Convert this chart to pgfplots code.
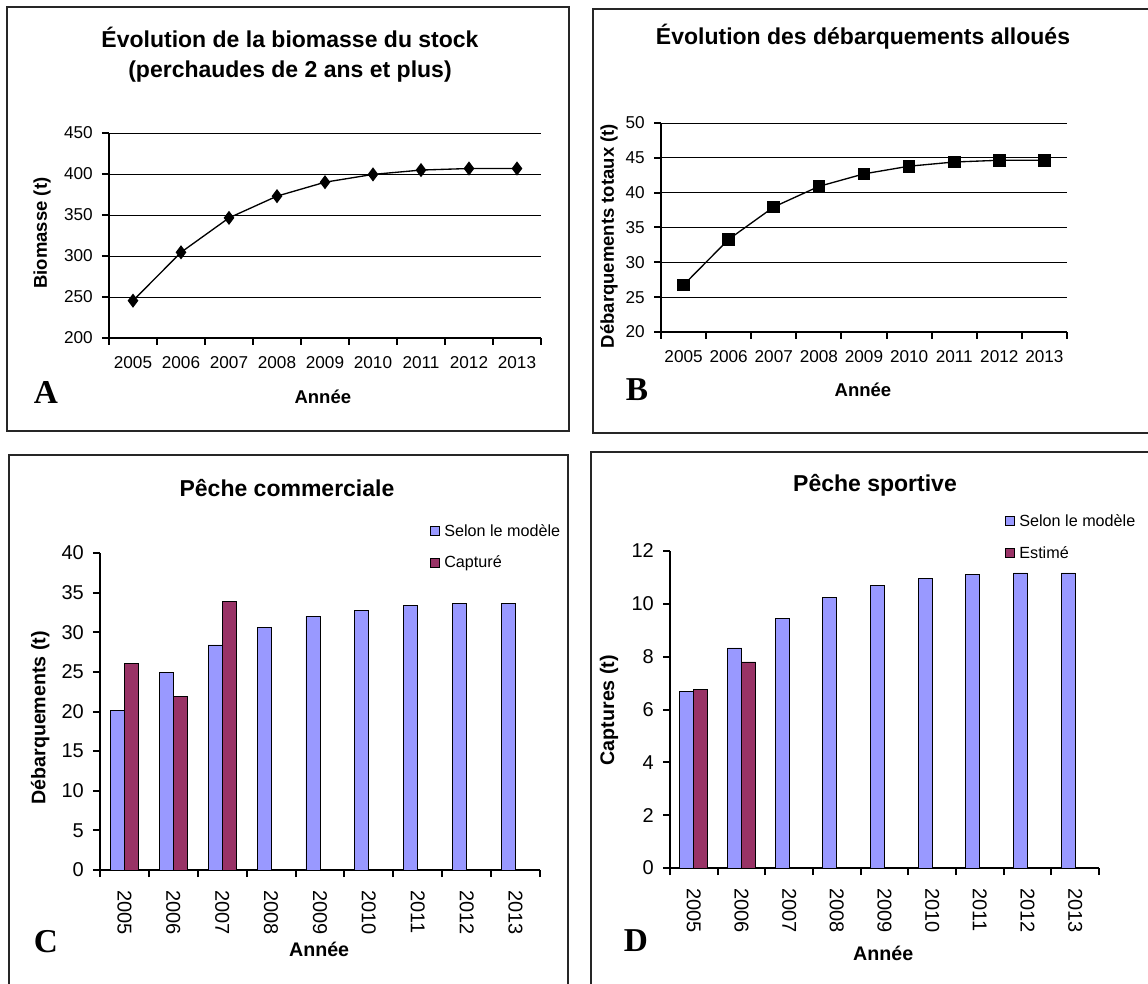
\documentclass[border=0pt]{standalone}
\usepackage{fontspec}
\setmainfont{Liberation Sans}
\newfontfamily\tnr{Liberation Serif}
\usepackage{pgfplots}
\pgfplotsset{compat=1.18}

\definecolor{modele}{HTML}{9999FF}
\definecolor{capture}{HTML}{993366}

\newcommand{\titlefont}{\bfseries\fontsize{13.8}{16}\selectfont}
\newcommand{\labelfont}{\bfseries\fontsize{11.1}{13}\selectfont}
\newcommand{\barlabelfont}{\bfseries\fontsize{11.8}{14}\selectfont}
\newcommand{\tickfont}{\fontsize{10.3}{12}\selectfont}
\newcommand{\bartickfont}{\fontsize{12}{14}\selectfont}
\newcommand{\letterfont}{\tnr\bfseries\fontsize{20}{24}\selectfont}

\pgfplotsset{
  panel/.style={
    scale only axis,
    axis lines=left,
    axis line style={-, line width=1.5pt, black},
    tick align=outside,
    major tick length=4.2pt,
    minor tick length=4.2pt,
    every tick/.style={black, line width=1.2pt},
    major x tick style={draw=none},
    ticklabel style={font=\tickfont},
    yticklabel style={xshift=-2pt},
    xticklabel style={yshift=-3.5pt},
    /pgf/number format/assume math mode=true,
    xmin=0.5, xmax=9.5,
    xtick={1,...,9},
    xticklabels={2005,2006,2007,2008,2009,2010,2011,2012,2013},
    minor xtick={0.5,1.5,...,9.5},
    enlargelimits=false,
    label style={font=\labelfont},
  },
  gridded/.style={
    ymajorgrids,
    major grid style={black, line width=0.5pt},
  },
  bars/.style={
    ybar=0pt,
    bar width=8.4pt,
    ticklabel style={font=\bartickfont},
    label style={font=\barlabelfont},
    yticklabel style={xshift=0pt},
    xticklabel style={rotate=-90, anchor=west, xshift=1pt},
    area legend,
    legend image code/.code={\draw[##1, draw=black, line width=0.5pt] (0pt,-2.7pt) rectangle (5.4pt,2.7pt);},
    legend style={draw=none, fill=none, inner sep=0pt, row sep=7.5pt,
      font=\fontsize{9.7}{11}\selectfont, nodes={inner sep=1.5pt, inner xsep=2.5pt}},
    legend cell align=left,
  },
}

\begin{document}
\begin{tikzpicture}[x=0.6pt, y=-0.6pt]
\useasboundingbox (0,0) rectangle (1148,983);
\clip (0,0) rectangle (1148,983);

% panel frames
\draw[line width=0.9pt, black!85] (7,7) rectangle (569,431);
\draw[line width=0.9pt, black!85] (593,9) rectangle (1170,433);
\draw[line width=0.9pt, black!85] (9,455) rectangle (568,1010);
\draw[line width=0.9pt, black!85] (591,452) rectangle (1170,1010);

% titles and panel letters
\node[font=\titlefont] at (290,37) {Évolution de la biomasse du stock};
\node[font=\titlefont] at (290,72) {(perchaudes de 2 ans et plus)};
\node[font=\titlefont] at (863,37) {Évolution des débarquements alloués};
\node[font=\titlefont] at (287,488) {Pêche commerciale};
\node[font=\titlefont] at (875,485) {Pêche sportive};
\node[font=\letterfont] at (46,392) {A};
\node[font=\letterfont] at (637,390) {B};
\node[font=\letterfont] at (46,942) {C};
\node[font=\letterfont] at (636,941) {D};

% A: biomass of the stock
\begin{axis}[panel, gridded,
  at={(65.4pt,-202.8pt)}, anchor=south west,
  width=259.2pt, height=123pt,
  ymin=200, ymax=450, ytick={200,250,...,450},
  xlabel={Année}, ylabel={Biomasse (t)},
  xlabel style={at={(axis description cs:0.495,-0.288)}, anchor=center},
  ylabel style={at={(axis description cs:-0.155,0.512)}, anchor=center},
]
\addplot[black, line width=0.8pt, mark=diamond*, mark size=3.6pt,
  mark options={solid, fill=black}]
  coordinates {(1,245.5)(2,304.5)(3,346.5)(4,373)(5,390)(6,399.5)(7,404.8)(8,406.7)(9,406.7)};
\end{axis}

% B: allocated landings
\begin{axis}[panel, gridded,
  at={(396.6pt,-199.2pt)}, anchor=south west,
  width=243.6pt, height=125.4pt,
  ymin=20, ymax=50, ytick={20,25,...,50},
  xlabel={Année}, ylabel={Débarquements totaux (t)},
  xlabel style={at={(axis description cs:0.4975,-0.278)}, anchor=center},
  ylabel style={at={(axis description cs:-0.128,0.459)}, anchor=center},
]
\addplot[black, line width=0.8pt, mark=square*, mark size=3.4pt,
  mark options={solid, fill=black}]
  coordinates {(1,26.75)(2,33.3)(3,37.95)(4,40.9)(5,42.7)(6,43.8)(7,44.4)(8,44.65)(9,44.65)};
\end{axis}

% C: commercial fishery
\begin{axis}[panel, bars,
  at={(60pt,-522pt)}, anchor=south west,
  width=264pt, height=190.2pt,
  ymin=0, ymax=40, ytick={0,5,...,40},
  xlabel={Année}, ylabel={Débarquements (t)},
  xlabel style={at={(axis description cs:0.498,-0.249)}, anchor=center},
  ylabel style={at={(axis description cs:-0.136,0.48)}, anchor=center},
  legend style={at={(axis description cs:0.75,1.10)}, anchor=north west},
]
\addplot[fill=modele, draw=black, line width=0.5pt]
  coordinates {(1,20.1)(2,24.9)(3,28.4)(4,30.6)(5,32.0)(6,32.8)(7,33.35)(8,33.6)(9,33.6)};
\addplot[fill=capture, draw=black, line width=0.5pt]
  coordinates {(1,26.1)(2,21.95)(3,33.9)};
\legend{Selon le modèle, Capturé}
\end{axis}

% D: sport fishery
\begin{axis}[panel, bars,
  at={(402pt,-520.8pt)}, anchor=south west,
  width=257.4pt, height=190.2pt,
  ymin=0, ymax=12, ytick={0,2,...,12},
  xlabel={Année}, ylabel={Captures (t)},
  xlabel style={at={(axis description cs:0.497,-0.268)}, anchor=center},
  ylabel style={at={(axis description cs:-0.142,0.498)}, anchor=center},
  legend style={at={(axis description cs:0.781,1.125)}, anchor=north west},
]
\addplot[fill=modele, draw=black, line width=0.5pt]
  coordinates {(1,6.68)(2,8.33)(3,9.45)(4,10.23)(5,10.71)(6,10.95)(7,11.12)(8,11.17)(9,11.17)};
\addplot[fill=capture, draw=black, line width=0.5pt]
  coordinates {(1,6.75)(2,7.8)};
\legend{Selon le modèle, Estimé}
\end{axis}
\end{tikzpicture}
\end{document}
